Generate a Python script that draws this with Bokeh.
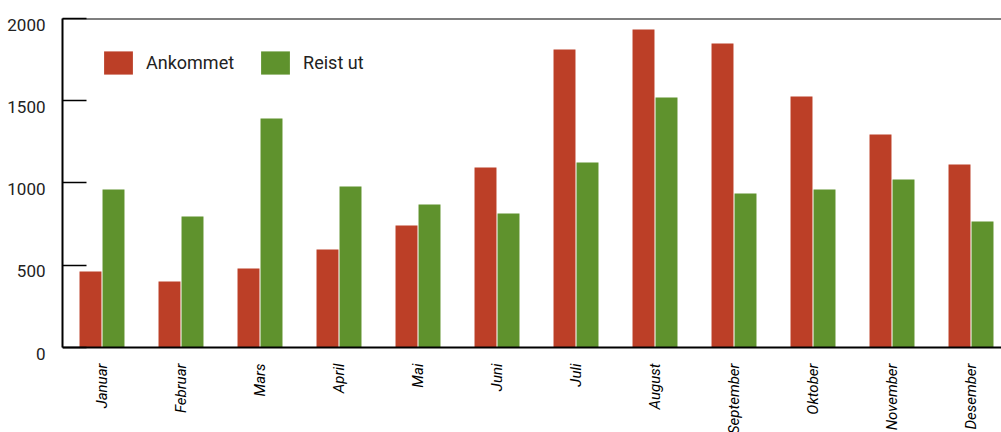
from bokeh.plotting import figure
from bokeh.models import (ColumnDataSource, Range1d, FixedTicker, Span,
                          LinearAxis)
from bokeh.embed import file_html
from bokeh.resources import INLINE

months = ["Januar", "Februar", "Mars", "April", "Mai", "Juni", "Juli",
          "August", "September", "Oktober", "November", "Desember"]
ankommet = [462, 401, 480, 596, 742, 1094, 1812, 1933, 1848, 1526, 1295, 1112]
reist_ut = [960, 796, 1392, 979, 869, 815, 1125, 1520, 936, 960, 1021, 766]
y_ticks = [0, 500, 1000, 1500, 2000]

RED = "#bc3f27"
GREEN = "#5f922d"

xpos = [i + 0.5 for i in range(len(months))]
src = ColumnDataSource(dict(
    x_red=[x - 0.1456 for x in xpos],
    x_green=[x + 0.1456 for x in xpos],
    ankommet=ankommet,
    reist_ut=reist_ut,
))

# frame: 18..353 px; value 0 sits 6px above the frame bottom
p = figure(frame_width=939, frame_height=335, output_backend="svg",
           toolbar_location=None,
           x_range=Range1d(0, 11.886), y_range=Range1d(-36.5, 2000),
           min_border_left=62, min_border_right=0, min_border_top=18,
           min_border_bottom=79)
# labels of the original sit about 6px below their tick marks
p.extra_y_ranges = {"lab": Range1d(0, 2036.5)}

p.vbar(x="x_red", top="ankommet", width=0.278, source=src, color=RED,
       line_color=None, legend_label="Ankommet")
p.vbar(x="x_green", top="reist_ut", width=0.278, source=src, color=GREEN,
       line_color=None, legend_label="Reist ut")

p.outline_line_color = None
p.xgrid.visible = False
p.ygrid.visible = False
p.background_fill_color = "white"
p.border_fill_color = "white"

p.add_layout(Span(location=2000, dimension="width", line_color="black", line_width=2))
p.add_layout(Span(location=0, dimension="width", line_color="black", line_width=2))

# x axis
p.xaxis.ticker = FixedTicker(ticks=xpos)
p.xaxis.major_label_overrides = {x: m for x, m in zip(xpos, months)}
p.xaxis.major_label_orientation = 1.5708
p.xaxis.major_tick_line_color = None
p.xaxis.minor_tick_line_color = None
p.xaxis.axis_line_color = None
p.xaxis.major_label_standoff = 4
p.xaxis.major_label_text_font = "Roboto"
p.xaxis.major_label_text_font_style = "italic"
p.xaxis.major_label_text_font_size = "15px"
p.xaxis.major_label_text_color = "black"

# main y axis: line and inner ticks
p.yaxis.ticker = FixedTicker(ticks=y_ticks)
p.yaxis.bounds = (0, 2000)
p.yaxis.major_label_overrides = {v: "" for v in y_ticks}
p.yaxis.major_tick_in = 24
p.yaxis.major_tick_out = 0
p.yaxis.major_tick_line_color = "black"
p.yaxis.major_tick_line_width = 1.5
p.yaxis.minor_tick_line_color = None
p.yaxis.axis_line_color = "black"
p.yaxis.axis_line_width = 2
p.yaxis.major_label_standoff = 0

# label axis
lab_axis = LinearAxis(y_range_name="lab", ticker=FixedTicker(ticks=y_ticks),
                      axis_line_color=None, major_tick_line_color=None,
                      minor_tick_line_color=None, major_label_standoff=11,
                      major_label_text_font="Roboto",
                      major_label_text_font_size="17px",
                      major_label_text_color="#222222")
p.add_layout(lab_axis, "left")

# legend
lg = p.legend[0]
lg.orientation = "horizontal"
lg.location = (38, 276)
lg.margin = 0
lg.padding = 0
lg.spacing = 23
lg.border_line_color = None
lg.background_fill_alpha = 0
lg.glyph_width = 36
lg.glyph_height = 29
lg.label_height = 29
lg.label_standoff = 10
lg.label_text_font = "Roboto"
lg.label_text_font_size = "18px"
lg.label_text_color = "#222222"
lg.label_text_baseline = "middle"

html = file_html(p, INLINE)
html = html.replace("</head>", "<style>html,body{overflow:hidden}</style></head>")
open("out.html", "w").write(html)
